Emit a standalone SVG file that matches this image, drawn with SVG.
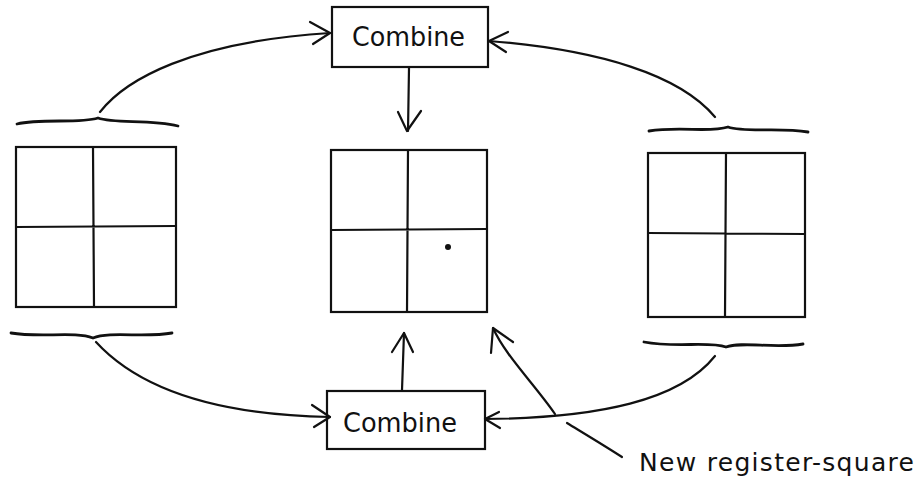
<svg xmlns="http://www.w3.org/2000/svg" width="919" height="482" viewBox="0 0 919 482">
  <style>
    .ink { fill: none; stroke: #111; stroke-width: 2.2; stroke-linecap: round; stroke-linejoin: round; }
    .brace { fill: none; stroke: #111; stroke-width: 2.8; stroke-linecap: round; stroke-linejoin: round; }
    .box { fill: #fff; stroke: #111; stroke-width: 2.2; }
    .label { font-family: "DejaVu Sans", "Liberation Sans", sans-serif; fill: #111; }
  </style>
  <rect width="919" height="482" fill="#fff"/>

  <!-- left register square with its braces -->
  <g id="left-square">
    <path class="brace" d="M17,124 C40,118 80,124 98,118 C115,124 150,119 178,126"/>
    <rect class="box" x="16" y="147" width="160" height="160"/>
    <path class="ink" d="M93,147 L94,307 M16,227 L176,226"/>
    <path class="brace" d="M11,333 C40,338 75,331 93,338 C110,331 145,338 172,333"/>
  </g>

  <!-- centre register square -->
  <g id="centre-square">
    <rect class="box" x="331" y="150" width="156" height="162"/>
    <path class="ink" d="M408,150 L407,312 M331,230 L487,229"/>
    <circle cx="448" cy="247" r="3" fill="#111"/>
  </g>

  <!-- right register square with its braces -->
  <g id="right-square">
    <path class="brace" d="M649,131 C680,126 710,133 728,127 C745,133 780,127 808,132"/>
    <rect class="box" x="648" y="153" width="157" height="164"/>
    <path class="ink" d="M726,153 L725,317 M648,233 L805,234"/>
    <path class="brace" d="M644,342 C675,348 710,341 726,347 C742,341 775,349 803,344"/>
  </g>

  <!-- combine boxes -->
  <g id="combine-top">
    <rect class="box" x="332" y="7" width="156" height="60"/>
    <text class="label" x="352" y="46" font-size="26" textLength="113" lengthAdjust="spacingAndGlyphs">Combine</text>
  </g>
  <g id="combine-bottom">
    <rect class="box" x="327" y="391" width="158" height="58"/>
    <text class="label" x="343" y="432" font-size="26" textLength="114" lengthAdjust="spacingAndGlyphs">Combine</text>
  </g>

  <!-- annotation -->
  <g id="annotation">
    <text class="label" x="639" y="471" font-size="25" textLength="275" lengthAdjust="spacing">New register-square</text>
  </g>

  <!-- connectors -->
  <g id="connectors">
    <!-- left square to top combine -->
    <path class="ink" d="M100,112 C125,80 190,42 330,33"/>
    <path class="ink" d="M310,22 L330,33 L313,44"/>
    <!-- right square to top combine -->
    <path class="ink" d="M715,117 C680,75 600,50 489,41"/>
    <path class="ink" d="M508,32 L489,41 L506,52"/>
    <!-- top combine down to centre -->
    <path class="ink" d="M409,68 L408,131"/>
    <path class="ink" d="M398,112 L407,131 L421,111"/>
    <!-- left square to bottom combine -->
    <path class="ink" d="M96,342 C140,390 220,415 330,417"/>
    <path class="ink" d="M312,405 L330,417 L314,427"/>
    <!-- right square to bottom combine -->
    <path class="ink" d="M715,356 C680,400 600,418 485,419"/>
    <path class="ink" d="M499,412 L485,419 L500,428"/>
    <!-- bottom combine up to centre -->
    <path class="ink" d="M402,390 L404,333"/>
    <path class="ink" d="M392,352 L404,333 L413,352"/>
    <!-- pointer to the new register-square -->
    <path class="ink" d="M555,414 C535,385 505,355 493,328"/>
    <path class="ink" d="M491,353 L493,328 L513,342"/>
    <path class="ink" d="M567,423 C585,434 605,446 622,457"/>
  </g>
</svg>
